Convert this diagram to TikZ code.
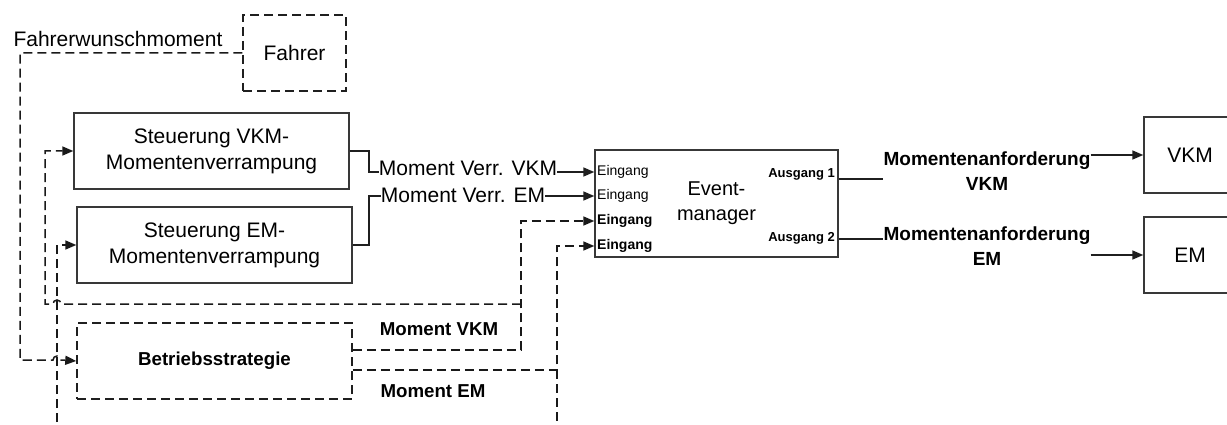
\documentclass[tikz,border=0pt]{standalone}
\usepackage{fontspec}
\setmainfont{Liberation Sans}
\usetikzlibrary{arrows.meta,calc}
\begin{document}
\begin{tikzpicture}[x=1pt,y=-1pt,
  nf/.style={font=\fontsize{21}{26}\selectfont},
  bfnt/.style={font=\fontsize{19}{25}\selectfont\bfseries},
  sf/.style={font=\fontsize{14}{16}\selectfont},
  sbf/.style={font=\fontsize{14}{16}\selectfont\bfseries},
  af/.style={font=\fontsize{13}{15}\selectfont\bfseries},
  box/.style={draw=black!78, line width=1.4pt, inner sep=0pt, align=center, nf},
  dbox/.style={box, draw=black!88, line width=1.5pt, dash pattern=on 9pt off 5pt},
  sline/.style={draw=black!88, line width=1.4pt},
  dl/.style={draw=black!90, line width=1.5pt, dash pattern=on 9pt off 5pt},
  arr/.style={-{Triangle[length=11pt,width=9pt]}},
  lbl/.style={inner sep=0pt, align=center}
]
\clip (0,0) rectangle (1227,425);
\fill[white] (0,0) rectangle (1227,425);

% boxes
\node[dbox, minimum width=103pt, minimum height=76pt] (fahrer) at (294.5,53) {Fahrer};
\node[box, minimum width=275pt, minimum height=76pt] (svkm) at (211.5,151) {Steuerung VKM-\\Momentenverrampung};
\node[box, minimum width=275pt, minimum height=76pt] (sem) at (214.5,245) {Steuerung EM-\\Momentenverrampung};
\node[dbox, minimum width=275pt, minimum height=76pt, font=\fontsize{18.7}{25}\selectfont\bfseries] (betr) at (214.5,361) {Betriebsstrategie};
\node[box, minimum width=243pt, minimum height=107pt, font=\fontsize{20}{25}\selectfont] (evm) at (716.5,203.5) {Event-\\manager};
\node[box, minimum width=92pt, minimum height=76pt] (vkm) at (1190,155) {VKM};
\node[box, minimum width=92pt, minimum height=76pt] (emb) at (1190,255) {EM};

% port labels
\node[sf, anchor=west, inner sep=0pt] (e1) at (597,172) {Eingang};
\node[sf, anchor=west, inner sep=0pt] (e2) at (597,196) {Eingang};
\node[sbf, anchor=west, inner sep=0pt] (e3) at (597,221) {Eingang};
\node[sbf, anchor=west, inner sep=0pt] (e4) at (597,246) {Eingang};
\node[af, anchor=east, inner sep=0pt] (a1) at (835,174) {Ausgang 1};
\node[af, anchor=east, inner sep=0pt] (a2) at (835,238) {Ausgang 2};

% labels
\node[nf, lbl] (fw) at (118,39) {Fahrerwunschmoment};
\node[nf, lbl] (lv) at (468,168) {Moment Verr. VKM};
\node[nf, lbl] (le) at (463,195) {Moment Verr. EM};
\node[bfnt, lbl, font=\fontsize{18.7}{25}\selectfont\bfseries] (mv) at (439,329) {Moment VKM};
\node[bfnt, lbl, font=\fontsize{18.7}{25}\selectfont\bfseries] (me) at (433,391) {Moment EM};
\node[bfnt, lbl] (ma1) at (987,171) {Momentenanforderung\\VKM};
\node[bfnt, lbl] (ma2) at (987,246) {Momentenanforderung\\EM};

% helper coordinates
\coordinate (k1) at (369,172);
\coordinate (k2) at (369,196);
\coordinate (j3) at (521,221);
\coordinate (j4) at (557,246);
\coordinate (o1) at (838,179);
\coordinate (o2) at (838,239);

% solid connectors
\draw[sline] (svkm.east) -| (k1) -- (k1 -| lv.west);
\draw[sline, arr] (lv.east |- k1) -- (evm.west |- k1);
\draw[sline] (sem.east) -| (k2) -- (k2 -| le.west);
\draw[sline, arr] (le.east |- k2) -- (evm.west |- k2);
\draw[sline] (evm.east |- o1) -- (o1 -| ma1.west);
\draw[sline, arr] (vkm.west -| ma1.east) -- (vkm.west);
\draw[sline] (evm.east |- o2) -- (o2 -| ma2.west);
\draw[sline, arr] (emb.west -| ma2.east) -- (emb.west);

% dashed connectors
\draw[dl, arr] ([yshift=11pt]betr.east) -| (j3) -- (evm.west |- j3);
\draw[dl, arr] ([yshift=-9pt]betr.east) -| (j4) -- (evm.west |- j4);
\draw[dl, arr] (521,304) -- (61,304) arc[start angle=0, end angle=180, radius=4pt] -- (45,304) |- (svkm.west);
\draw[dl, arr] (557,370) -- (557,440) -- (57,440) |- (sem.west);
\draw[dl, arr] (fahrer.west) -- (20,53) -- (20,360) -- (53,360) arc[start angle=180, end angle=0, radius=4pt] -- (betr.west);
\end{tikzpicture}
\end{document}
